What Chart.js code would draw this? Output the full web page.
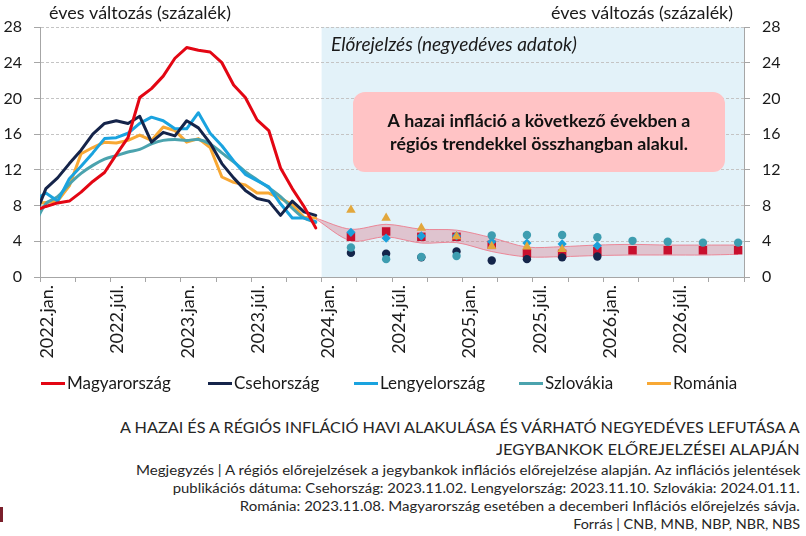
<!DOCTYPE html>
<html>
<head>
<meta charset="utf-8">
<script src="https://cdn.jsdelivr.net/npm/chart.js@4.4.1/dist/chart.umd.min.js"></script>
<style>
  body { margin: 0; background: #fff; }
  #wrap { position: relative; width: 806px; height: 536px; overflow: hidden; }
  #c { position: absolute; left: 0; top: 0; }
  .cap { position: absolute; right: 6px; white-space: nowrap; font-family: Lato; color: #262626; line-height: 18px; height: 18px; transform-origin: right center; }
  #mark { position: absolute; left: 0; top: 507px; width: 3px; height: 15px; background: #7a1f2b; }
</style>
</head>
<body>
<div id="wrap">
  <canvas id="c" width="806" height="402"></canvas>
  <div class="cap" data-y="427" data-w="684" data-s="15.5">A HAZAI ÉS A RÉGIÓS INFLÁCIÓ HAVI ALAKULÁSA ÉS VÁRHATÓ NEGYEDÉVES LEFUTÁSA A</div>
  <div class="cap" data-y="449" data-w="304" data-s="15.5">JEGYBANKOK ELŐREJELZÉSEI ALAPJÁN</div>
  <div class="cap" data-y="470" data-w="666" data-s="13.6">Megjegyzés | A régiós előrejelzések a jegybankok inflációs előrejelzése alapján. Az inflációs jelentések</div>
  <div class="cap" data-y="488" data-w="627" data-s="13.6">publikációs dátuma: Csehország: 2023.11.02. Lengyelország: 2023.11.10. Szlovákia: 2024.01.11.</div>
  <div class="cap" data-y="506" data-w="560" data-s="13.6">Románia: 2023.11.08. Magyarország esetében a decemberi Inflációs előrejelzés sávja.</div>
  <div class="cap" data-y="524" data-w="227" data-s="13.6">Forrás | CNB, MNB, NBP, NBR, NBS</div>
  <div id="mark"></div>
</div>
<script>
// monthly history (Dec 2021 is only there so the lines run into the left edge)
const histMonths = ['2021-12',
  '2022-01', '2022-02', '2022-03', '2022-04', '2022-05', '2022-06',
  '2022-07', '2022-08', '2022-09', '2022-10', '2022-11', '2022-12',
  '2023-01', '2023-02', '2023-03', '2023-04', '2023-05', '2023-06',
  '2023-07', '2023-08', '2023-09', '2023-10', '2023-11', '2023-12'];

const hungary = [7.4, 7.9, 8.3, 8.5, 9.5, 10.7, 11.7, 13.7, 15.6, 20.1, 21.1, 22.5, 24.5,
  25.7, 25.4, 25.2, 24.0, 21.5, 20.1, 17.6, 16.4, 12.2, 9.9, 7.9, 5.5];
const czech = [6.6, 9.9, 11.1, 12.7, 14.2, 16.0, 17.2, 17.5, 17.2, 18.0, 15.1, 16.2, 15.8,
  17.5, 16.7, 15.0, 12.7, 11.1, 9.7, 8.8, 8.5, 6.9, 8.5, 7.3, 6.9];
const poland = [8.6, 9.4, 8.5, 11.0, 12.4, 13.9, 15.5, 15.6, 16.1, 17.2, 17.9, 17.5, 16.6,
  16.6, 18.4, 16.1, 14.7, 13.0, 11.5, 10.8, 10.1, 8.2, 6.6, 6.6, 6.2];
const slovakia = [5.8, 8.2, 9.0, 10.4, 11.6, 12.5, 13.2, 13.6, 14.0, 14.3, 14.9, 15.3, 15.4,
  15.3, 15.4, 14.9, 13.9, 12.9, 11.8, 10.9, 10.0, 9.0, 7.7, 6.6, 6.1];
const romania = [8.2, 8.35, 8.5, 10.2, 13.8, 14.5, 15.1, 15.0, 15.3, 15.9, 15.3, 16.8, 16.4,
  15.1, 15.5, 14.5, 11.2, 10.6, 10.3, 9.4, 9.4, 8.8, 8.1, 6.7, 6.6];

// quarterly forecasts
const quarters = ['2024Q1', '2024Q2', '2024Q3', '2024Q4', '2025Q1', '2025Q2',
  '2025Q3', '2025Q4', '2026Q1', '2026Q2', '2026Q3', '2026Q4'];
const fcHungary = [4.5, 5.1, 4.5, 4.5, 3.6, 2.65, 2.6, 2.9, 3.0, 3.0, 3.0, 3.0];
const fcCzech = [2.7, 2.6, 2.2, 2.85, 1.85, 2.0, 2.2, 2.3, null, null, null, null];
const fcPoland = [5.0, 4.35, 4.6, 4.6, 3.95, 3.8, 3.7, 3.5, null, null, null, null];
const fcSlovakia = [3.3, 2.0, 2.25, 2.35, 4.65, 4.7, 4.7, 4.45, 4.05, 3.95, 3.85, 3.85];
const fcRomania = [7.5, 6.6, 5.5, 4.55, 3.45, 3.4, 3.1, null, null, null, null, null];

// MNB band, starts from the last observed month
const bandStart = '2023-12';
const bandUpper = [6.6, 5.35, 5.9, 5.35, 5.25, 4.4, 3.35, 3.4, 3.58, 3.65, 3.58, 3.58, 3.58];
const bandLower = [6.5, 4.05, 4.5, 3.8, 3.85, 2.85, 2.25, 2.28, 2.4, 2.46, 2.46, 2.46, 2.54];

const forecastFrom = '2024-01';
const xTickLabels = ['2022.jan.', '2022.júl.', '2023.jan.', '2023.júl.', '2024.jan.',
  '2024.júl.', '2025.jan.', '2025.júl.', '2026.jan.', '2026.júl.'];
const seriesNames = ['Magyarország', 'Csehország', 'Lengyelország', 'Szlovákia', 'Románia'];
const lineColors = ['#E30613', '#15244A', '#1AA3DF', '#4BA3AE', '#F8A834'];
const markerColors = ['#C8102E', '#14254A', '#1BA0DA', '#3E9DB0', '#E2A73C'];
const legendLeft = [41, 208, 354, 519, 647];

// month index on the x axis, Jan 2022 = 0, points sit mid-month
const monthX = (s) => (+s.slice(0, 4) - 2022) * 12 + (+s.slice(5, 7) - 1);
const quarterX = (s) => (+s.slice(0, 4) - 2022) * 12 + (+s.slice(5)) * 3 - 1 + 0.5;
const zip = (xs, ys) => xs.map((x, i) => ({ x, y: ys[i] }));

const histX = histMonths.map(m => monthX(m) + 0.5);
const qX = quarters.map(quarterX);
const bandX = [monthX(bandStart) + 0.5, ...qX];

function lineSet(i, data, order, extra) {
  return Object.assign({
    label: seriesNames[i], data: zip(histX, data), borderColor: lineColors[i],
    borderWidth: 3, pointRadius: 0, fill: false, order,
    borderJoinStyle: 'round', borderCapStyle: 'round'
  }, extra || {});
}
function markerSet(i, data, style, radius, order) {
  return {
    label: seriesNames[i] + ' előrejelzés', data: zip(qX, data), showLine: false,
    pointStyle: style, pointRadius: radius, pointBackgroundColor: markerColors[i],
    pointBorderWidth: 0, order
  };
}

function fitSize(ctx, text, font, target, base) {
  ctx.font = font.replace('{s}', base + 'px');
  return base * target / ctx.measureText(text).width;
}

const decor = {
  id: 'decor',
  beforeDraw(chart) {
    const { ctx, chartArea: a, scales: { x } } = chart;
    ctx.save();
    ctx.fillStyle = '#fff';
    ctx.fillRect(0, 0, chart.width, chart.height);
    const x0 = x.getPixelForValue(monthX(forecastFrom));
    ctx.fillStyle = '#E3F2F9';
    ctx.fillRect(x0, a.top, a.right - x0, a.bottom - a.top);
    ctx.restore();
  },
  beforeDatasetsDraw(chart) {
    const { ctx } = chart;
    ctx.save();
    ctx.fillStyle = '#1a1a1a';
    ctx.textBaseline = 'middle';
    const ttl = 'éves változás (százalék)';
    let s = fitSize(ctx, ttl, '{s} Lato', 182, 16);
    ctx.font = s + 'px Lato';
    ctx.textAlign = 'left';
    ctx.fillText(ttl, 49, 13);
    ctx.textAlign = 'right';
    ctx.fillText(ttl, 733, 13);

    const fc = 'Előrejelzés (negyedéves adatok)';
    s = fitSize(ctx, fc, 'italic {s} Lato', 246, 16);
    ctx.font = 'italic ' + s + 'px Lato';
    ctx.textAlign = 'left';
    ctx.fillText(fc, 331, 45);

    ctx.fillStyle = '#FFC3C5';
    ctx.beginPath();
    ctx.roundRect(353, 92, 372, 80, 12);
    ctx.fill();
    const l1 = 'A hazai infláció a következő években a';
    const l2 = 'régiós trendekkel összhangban alakul.';
    s = fitSize(ctx, l1, 'bold {s} Lato', 303, 16);
    ctx.font = 'bold ' + s + 'px Lato';
    ctx.fillStyle = '#111';
    ctx.textAlign = 'center';
    ctx.fillText(l1, 539, 121);
    ctx.fillText(l2, 539, 144);
    ctx.restore();
  },
  afterDraw(chart) {
    // legend row, laid out like the original
    const { ctx } = chart;
    ctx.save();
    ctx.font = '17px Lato';
    ctx.textBaseline = 'middle';
    ctx.textAlign = 'left';
    seriesNames.forEach((n, i) => {
      const x0 = legendLeft[i];
      ctx.fillStyle = lineColors[i];
      ctx.fillRect(x0, 382, 24, 3);
      ctx.fillStyle = '#1a1a1a';
      ctx.fillText(n, x0 + 26, 383.5);
    });
    ctx.restore();
  }
};

Chart.defaults.font.family = 'Lato';
Chart.defaults.color = '#1a1a1a';

new Chart(document.getElementById('c'), {
  type: 'line',
  data: {
    datasets: [
      markerSet(4, fcRomania, 'triangle', 5.5, 1),
      markerSet(3, fcSlovakia, 'circle', 4.2, 2),
      markerSet(2, fcPoland, 'rectRot', 4.6, 3),
      markerSet(1, fcCzech, 'circle', 4.2, 4),
      markerSet(0, fcHungary, 'rect', 6, 5),
      lineSet(0, hungary, 6),
      lineSet(1, czech, 7),
      lineSet(2, poland, 8),
      lineSet(3, slovakia, 9, { tension: 0.35 }),
      lineSet(4, romania, 10),
      {
        label: 'sáv felső', data: zip(bandX, bandUpper), borderColor: 'rgba(236,120,138,0.85)',
        borderWidth: 1, pointRadius: 0, tension: 0.3, fill: false, order: 11
      },
      {
        label: 'sáv alsó', data: zip(bandX, bandLower), borderColor: 'rgba(236,120,138,0.85)',
        borderWidth: 1, pointRadius: 0, tension: 0.3, fill: '-1',
        backgroundColor: 'rgba(218,120,140,0.38)', order: 12
      }
    ]
  },
  options: {
    responsive: false,
    animation: false,
    devicePixelRatio: 1,
    events: [],
    layout: { padding: { top: 27, left: 0, right: 0, bottom: 25 } },
    scales: {
      x: {
        type: 'linear', min: 0, max: 60,
        afterBuildTicks: (sc) => {
          const t = [];
          for (let v = 0; v <= 60; v += 3) t.push({ value: v });
          sc.ticks = t;
        },
        afterFit: (sc) => { sc.height = 100; },
        grid: { drawOnChartArea: false, drawTicks: true, tickLength: 5, color: '#A6A6A6' },
        border: { color: '#A6A6A6' },
        ticks: {
          autoSkip: false, minRotation: 90, maxRotation: 90, labelOffset: 7, padding: 3,
          font: { size: 18 },
          callback: (v) => (v % 6 === 0 ? (xTickLabels[v / 6] || '') : '')
        }
      },
      y: {
        position: 'left', min: 0, max: 28,
        afterFit: (sc) => { sc.width = 40; },
        ticks: { stepSize: 4, padding: 12, font: { size: 16 } },
        grid: { color: '#C4C4C4', tickLength: 6, tickColor: '#A6A6A6', tickBorderDash: [] },
        border: { color: '#A6A6A6', dash: [3, 2] }
      },
      y2: {
        position: 'right', min: 0, max: 28,
        afterFit: (sc) => { sc.width = 62; },
        ticks: { stepSize: 4, padding: 12, font: { size: 16 } },
        grid: { drawOnChartArea: false, tickLength: 6, color: '#A6A6A6' },
        border: { color: '#A6A6A6' }
      }
    },
    plugins: {
      tooltip: { enabled: false },
      legend: { display: false }
    }
  },
  plugins: [decor]
});

// caption lines: keep the letter height, squeeze to the width each line has in the original
const mctx = document.createElement('canvas').getContext('2d');
document.querySelectorAll('.cap').forEach(el => {
  const size = +el.dataset.s;
  mctx.font = size + 'px Lato';
  const k = +el.dataset.w / mctx.measureText(el.textContent).width;
  el.style.fontSize = size + 'px';
  el.style.transform = 'scaleX(' + k.toFixed(4) + ')';
  el.style.top = (+el.dataset.y - 9) + 'px';
});
</script>
</body>
</html>
